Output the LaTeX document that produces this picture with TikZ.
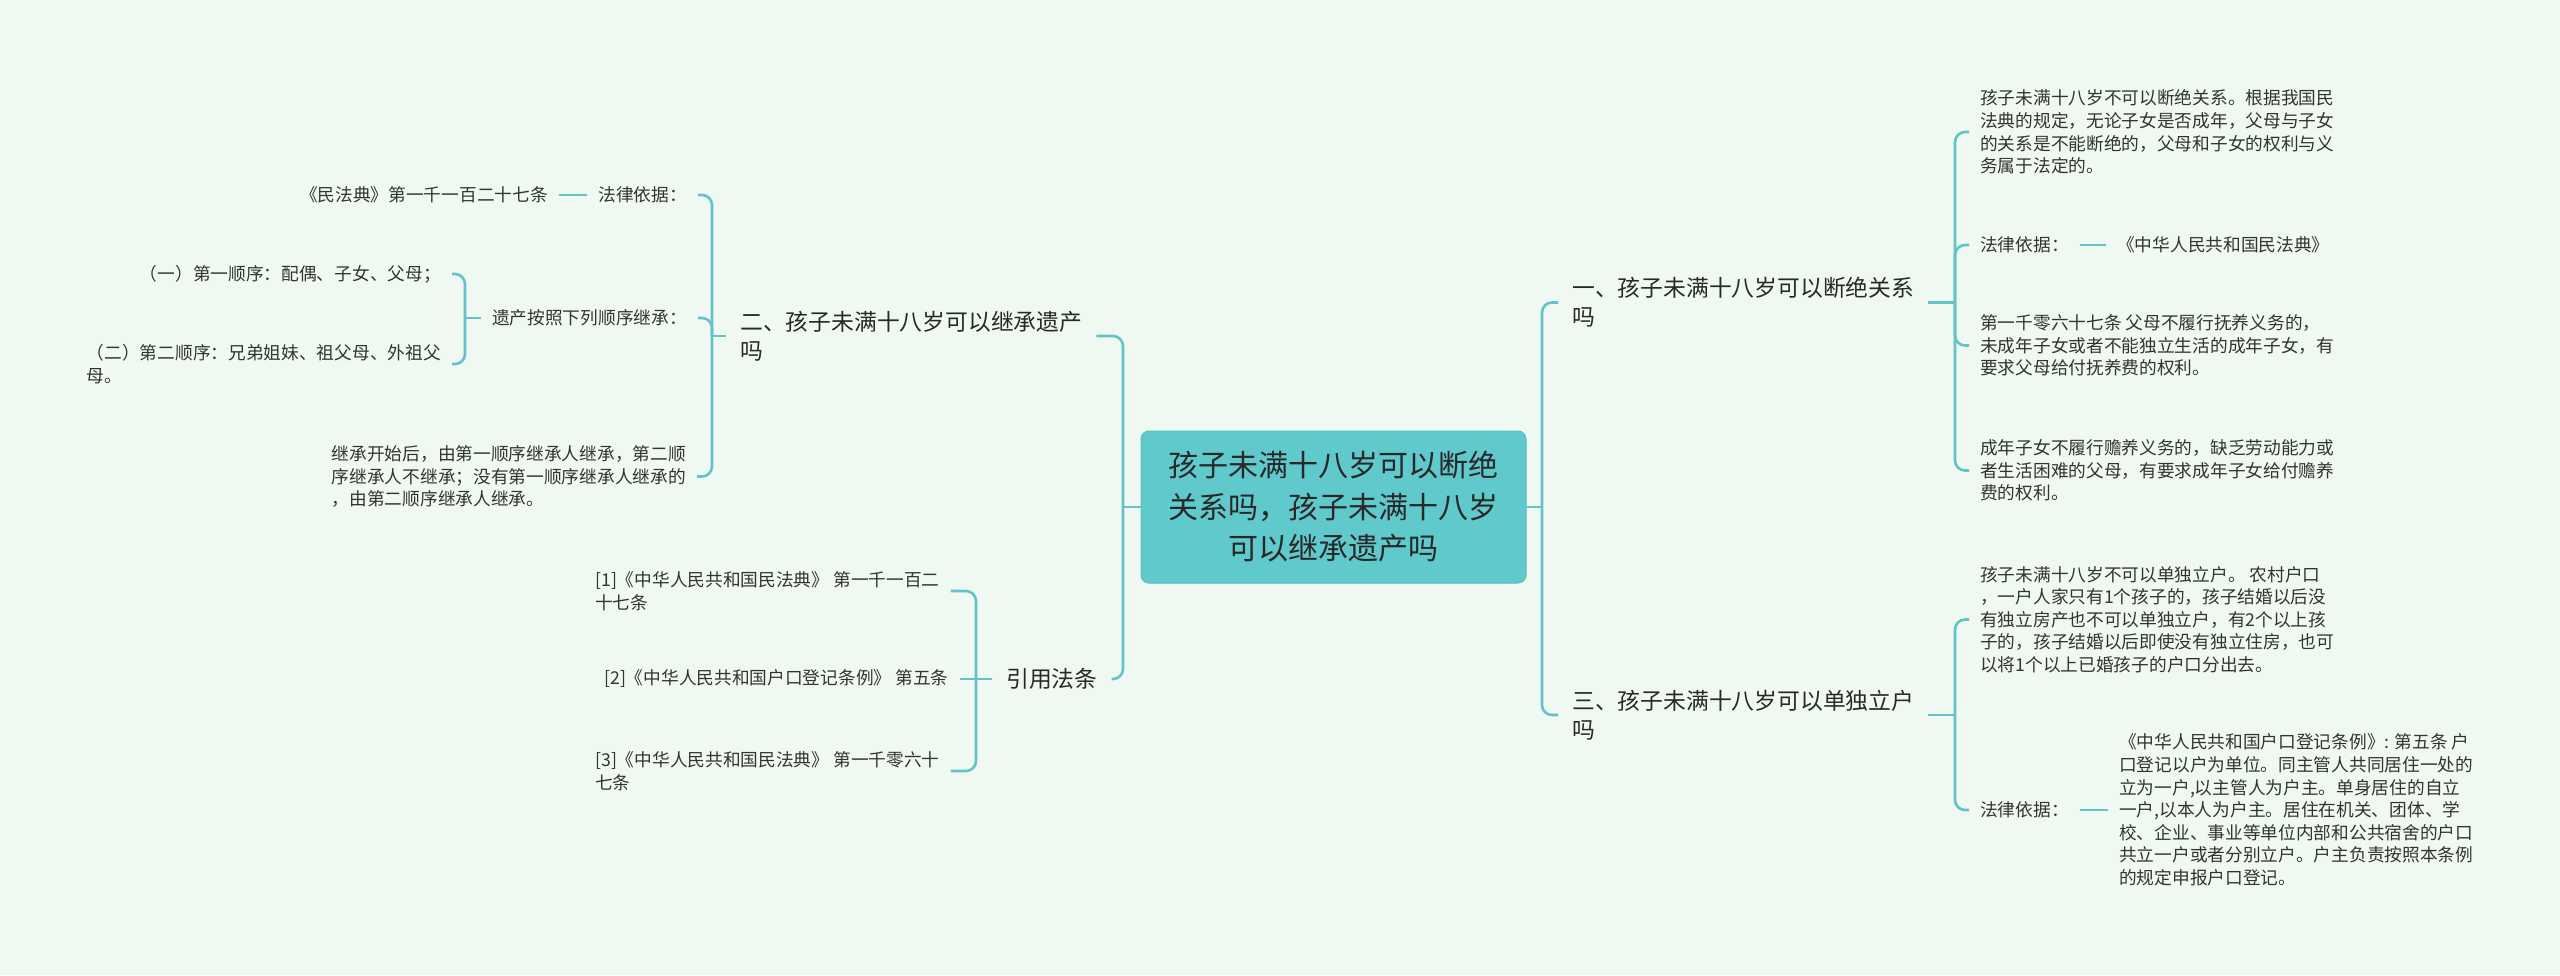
\documentclass[tikz,border=0pt]{standalone}
\usepackage{fontspec}
\newfontfamily\cjk{Noto Sans CJK SC}
\usetikzlibrary{calc}
\definecolor{bg}{RGB}{240,249,241}
\definecolor{lineteal}{RGB}{98,196,200}
\definecolor{rootfill}{RGB}{96,201,204}
\definecolor{rootdraw}{RGB}{88,190,195}
\definecolor{txt}{RGB}{51,51,51}
\definecolor{txtb}{RGB}{40,40,40}
\tikzset{
  leaf/.style={font={\cjk\fontsize{17.7}{22.6}\selectfont}, text=txt, align=left, inner xsep=11pt, inner ysep=2pt},
  branch/.style={font={\cjk\fontsize{22.8}{29}\selectfont}, text=txtb, align=left, inner xsep=14pt, inner ysep=2pt},
  rootbox/.style={font={\cjk\fontsize{30}{41.5}\selectfont}, text=txtb, align=center, fill=rootfill, draw=rootdraw, line width=1pt, rounded corners=8pt, minimum width=385pt, minimum height=152pt},
  conn/.style={draw=lineteal, line width=2.6pt, rounded corners=10pt},
  stub/.style={draw=lineteal, line width=2.6pt}
}
\begin{document}
\begin{tikzpicture}[x=1pt,y=-1pt]
\fill[bg] (0,0) rectangle (2560,975);
\useasboundingbox (0,0) rectangle (2560,975);

% root
\node[rootbox] (root) at (1333.5,507) {孩子未满十八岁可以断绝\\关系吗，孩子未满十八岁\\可以继承遗产吗};

% right branches
\node[branch, anchor=west] (b1) at (1558,302.5) {一、孩子未满十八岁可以断绝关系\\吗};
\node[branch, anchor=west] (b3) at (1558,715) {三、孩子未满十八岁可以单独立户\\吗};

% children of b1
\node[leaf, anchor=west] (c1) at (1969,132) {孩子未满十八岁不可以断绝关系。根据我国民\\法典的规定，无论子女是否成年，父母与子女\\的关系是不能断绝的，父母和子女的权利与义\\务属于法定的。};
\node[leaf, anchor=west] (c2) at (1969,245) {法律依据：};
\node[leaf, anchor=west] (c2b) at (2106,245) {《中华人民共和国民法典》};
\node[leaf, anchor=west] (c3) at (1969,345.5) {第一千零六十七条 父母不履行抚养义务的，\\未成年子女或者不能独立生活的成年子女，有\\要求父母给付抚养费的权利。};
\node[leaf, anchor=west] (c4) at (1969,470.5) {成年子女不履行赡养义务的，缺乏劳动能力或\\者生活困难的父母，有要求成年子女给付赡养\\费的权利。};

% children of b3
\node[leaf, anchor=west] (d1) at (1969,619.5) {孩子未满十八岁不可以单独立户。 农村户口\\，一户人家只有1个孩子的，孩子结婚以后没\\有独立房产也不可以单独立户，有2个以上孩\\子的，孩子结婚以后即使没有独立住房，也可\\以将1个以上已婚孩子的户口分出去。};
\node[leaf, anchor=west] (d2) at (1969,810) {法律依据：};
\node[leaf, anchor=west] (d2b) at (2108,810) {《中华人民共和国户口登记条例》: 第五条 户\\口登记以户为单位。同主管人共同居住一处的\\立为一户,以主管人为户主。单身居住的自立\\一户,以本人为户主。居住在机关、团体、学\\校、企业、事业等单位内部和公共宿舍的户口\\共立一户或者分别立户。户主负责按照本条例\\的规定申报户口登记。};

% left branches
\node[branch, anchor=west] (b2) at (726,336) {二、孩子未满十八岁可以继承遗产\\吗};
\node[branch, anchor=west] (r) at (992,679) {引用法条};

% children of b2
\node[leaf, anchor=east] (l1) at (698,195) {法律依据：};
\node[leaf, anchor=east] (l1b) at (559,195) {《民法典》第一千一百二十七条};
\node[leaf, anchor=east] (l2) at (698,318) {遗产按照下列顺序继承：};
\node[leaf, anchor=east] (l2a) at (452,274) {（一）第一顺序：配偶、子女、父母；};
\node[leaf, anchor=east] (l2b) at (452,364) {（二）第二顺序：兄弟姐妹、祖父母、外祖父\\母。};
\node[leaf, anchor=east] (l3) at (697,476.5) {继承开始后，由第一顺序继承人继承，第二顺\\序继承人不继承；没有第一顺序继承人继承的\\，由第二顺序继承人继承。};

% children of r
\node[leaf, anchor=west] (f1) at (584,591) {[1]《中华人民共和国民法典》 第一千一百二\\十七条};
\node[leaf, anchor=west] (f2) at (593,679) {[2]《中华人民共和国户口登记条例》 第五条};
\node[leaf, anchor=west] (f3) at (584,771) {[3]《中华人民共和国民法典》 第一千零六十\\七条};

% junctions
\coordinate (jcl) at (1123,507);
\coordinate (jcr) at (1542,507);
\coordinate (jb1) at (1955,302.5);
\coordinate (jb3) at (1955,715);
\coordinate (jb2) at (712,336);
\coordinate (jl2) at (465,318);
\coordinate (jr) at (976,679);

% root connectors
\draw[stub] (root.west) -- (jcl);
\draw[conn] (jcl) |- (b2.east);
\draw[conn] (jcl) |- (r.east);
\draw[stub] (root.east) -- (jcr);
\draw[conn] (jcr) |- (b1.west);
\draw[conn] (jcr) |- (b3.west);

% b1
\draw[stub] (b1.east) -- (jb1);
\draw[conn] (jb1) |- (c1.west);
\draw[conn] (jb1) |- (c2.west);
\draw[conn] (jb1) |- (c3.west);
\draw[conn] (jb1) |- (c4.west);
\draw[stub] (c2.east) -- (c2b.west);

% b3
\draw[stub] (b3.east) -- (jb3);
\draw[conn] (jb3) |- (d1.west);
\draw[conn] (jb3) |- (d2.west);
\draw[stub] (d2.east) -- (d2b.west);

% b2
\draw[stub] (b2.west) -- (jb2);
\draw[conn] (jb2) |- (l1.east);
\draw[conn] (jb2) |- (l2.east);
\draw[conn] (jb2) |- (l3.east);
\draw[stub] (l1.west) -- (l1b.east);
\draw[stub] (l2.west) -- (jl2);
\draw[conn] (jl2) |- (l2a.east);
\draw[conn] (jl2) |- (l2b.east);

% r
\draw[stub] (r.west) -- (jr);
\draw[conn] (jr) |- (f1.east);
\draw[stub] (jr) -- (f2.east);
\draw[conn] (jr) |- (f3.east);
\end{tikzpicture}
\end{document}
